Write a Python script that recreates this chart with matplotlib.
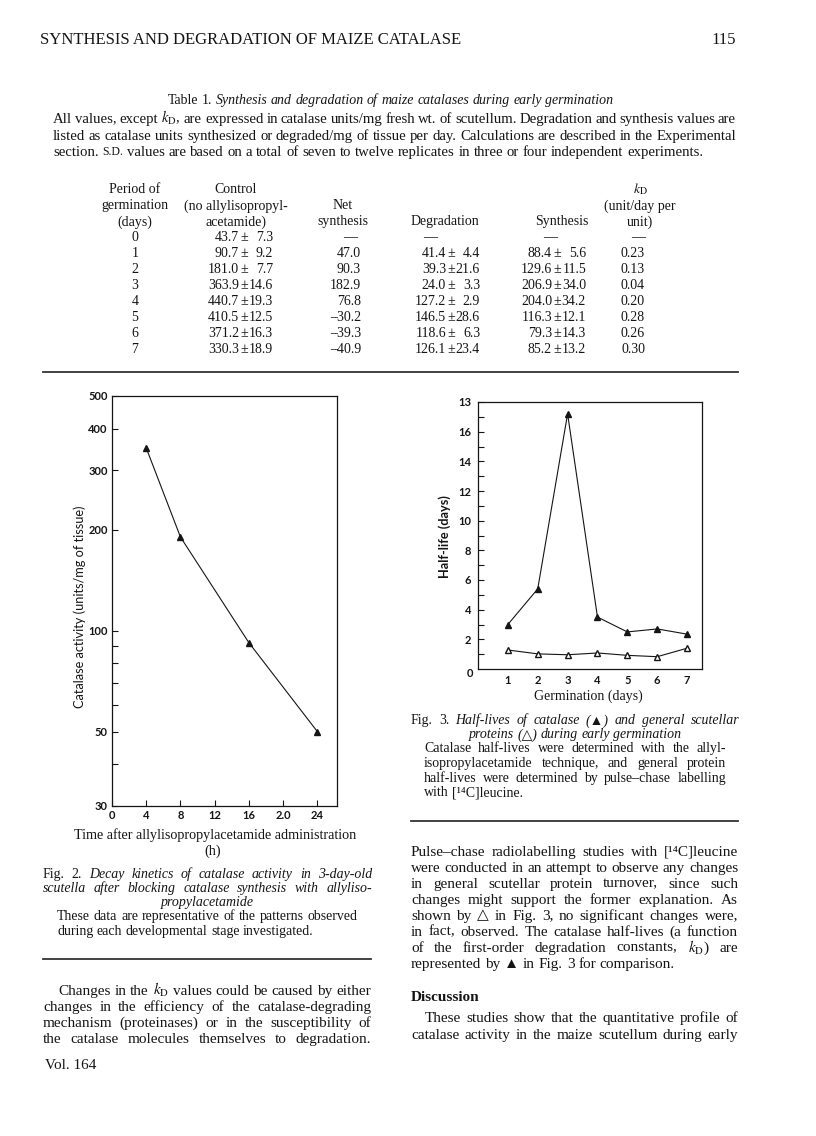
import matplotlib
matplotlib.use('Agg')
import matplotlib.pyplot as plt
from matplotlib.lines import Line2D
from matplotlib.ticker import FixedLocator, FixedFormatter, NullFormatter

plt.rcParams['mathtext.fontset'] = 'stix'

# Fig. 2 data: decay of catalase activity after blocking synthesis
hours = [4, 8, 16, 24]
activity = [350, 190, 92, 50]
hour_ticks = [0, 4, 8, 12, 16, 20, 24]
hour_labels = ['0', '4', '8', '12', '16', '2.0', '24']
activity_ticks = [30, 50, 100, 200, 300, 400, 500]
activity_minor = [40, 60, 70, 80, 90]

# Fig. 3 data: half-lives during germination
days = [1, 2, 3, 4, 5, 6, 7]
catalase_half_life = [3.0, 5.4, 17.2, 3.5, 2.5, 2.7, 2.35]
protein_half_life = [1.28, 1.02, 0.96, 1.08, 0.92, 0.83, 1.4]
half_life_ticks = [2, 4, 6, 8, 10, 12, 14, 16, 18]
half_life_labels = ['2', '4', '6', '8', '10', '12', '14', '16', '13']

# Table 1 data
table_days = [0, 1, 2, 3, 4, 5, 6, 7]
control_mean = [43.7, 90.7, 181.0, 363.9, 440.7, 410.5, 371.2, 330.3]
control_sd = [7.3, 9.2, 7.7, 14.6, 19.3, 12.5, 16.3, 18.9]
net_synthesis = [None, 47.0, 90.3, 182.9, 76.8, -30.2, -39.3, -40.9]
degradation_mean = [None, 41.4, 39.3, 24.0, 127.2, 146.5, 118.6, 126.1]
degradation_sd = [None, 4.4, 21.6, 3.3, 2.9, 28.6, 6.3, 23.4]
synthesis_mean = [None, 88.4, 129.6, 206.9, 204.0, 116.3, 79.3, 85.2]
synthesis_sd = [None, 5.6, 11.5, 34.0, 34.2, 12.1, 14.3, 13.2]
kd_values = [None, 0.23, 0.13, 0.04, 0.20, 0.28, 0.26, 0.30]

W, H = 816, 1136
SERIF = ['Liberation Serif', 'DejaVu Serif', 'DejaVu Sans']
SANS = ['Lato', 'DejaVu Sans']
INK = '#151515'
KD = r'$k_\mathrm{D}$'
BODY = 11      # running text
NOTE = 10.6    # table legend
LEGEND = 10    # figure legends
TAB = 10       # table body

fig = plt.figure(figsize=(W / 100, H / 100), dpi=100)
renderer = fig.canvas.get_renderer()


def fx(x):
    return x / W


def fy(y):
    return 1 - y / H


# y is the middle of the lower-case letters, in page pixels from the top
def put(x, y, s, size=BODY, style='normal', weight='normal', ha='left', family=SERIF):
    base = y + 0.24 * size * 100 / 72
    return fig.text(fx(x), fy(base), s, fontsize=size, fontstyle=style,
                    fontweight=weight, ha=ha, va='baseline', family=family, color=INK)


def roman(s, scale=1.0):
    return [(w, 'normal', 'normal', scale) for w in s.split()]


def ital(s):
    return [(w, 'italic', 'normal', 1.0) for w in s.split()]


def bold(s):
    return [(w, 'normal', 'bold', 1.0) for w in s.split()]


# one line of words, justified between x0 and x1 unless told otherwise
def line(x0, x1, y, tokens, size=BODY, justify=True, center=False):
    texts = [put(0, y, w, size * sc, st, wt) for (w, st, wt, sc) in tokens]
    widths = [t.get_window_extent(renderer).width for t in texts]
    total = sum(widths)
    space = 0.25 * size * 100 / 72
    if justify and len(texts) > 1:
        gap = max((x1 - x0 - total) / (len(texts) - 1), 0.6 * space)
        x = x0
    else:
        gap = space
        x = x0
        if center:
            x = (x0 + x1 - total - gap * (len(texts) - 1)) / 2
    for t, w in zip(texts, widths):
        t.set_x(fx(x))
        x += w + gap


def rule(x0, x1, y, lw=1.3):
    fig.add_artist(Line2D([fx(x0), fx(x1)], [fy(y), fy(y)], transform=fig.transFigure,
                          color='#333333', lw=lw))


# page header
put(40, 40, 'SYNTHESIS AND DEGRADATION OF MAIZE CATALASE', size=12)
put(736, 40, '115', size=12, ha='right')

# table title and legend
line(43, 738, 101, roman('Table 1.') + ital('Synthesis and degradation of maize catalases during early germination'),
     size=10, justify=False, center=True)
line(53, 736, 119, roman('All values, except ' + KD + ', are expressed in catalase units/mg fresh wt. of scutellum. '
                         'Degradation and synthesis values are'), size=NOTE)
line(53, 736, 136, roman('listed as catalase units synthesized or degraded/mg of tissue per day. Calculations are '
                         'described in the Experimental'), size=NOTE)
line(53, 736, 152, roman('section.') + roman('S.D.', 0.8) + roman('values are based on a total of seven to twelve '
                                                                 'replicates in three or four independent experiments.'),
     size=NOTE, justify=False)

# table header
for y, s in zip([190, 206, 222], ['Period of', 'germination', '(days)']):
    put(135, y, s, TAB, ha='center')
for y, s in zip([190, 206, 222], ['Control', '(no allylisopropyl-', 'acetamide)']):
    put(236, y, s, TAB, ha='center')
put(343, 206, 'Net', TAB, ha='center')
put(343, 222, 'synthesis', TAB, ha='center')
put(445, 222, 'Degradation', TAB, ha='center')
put(562, 222, 'Synthesis', TAB, ha='center')
for y, s in zip([190, 206, 222], [KD, '(unit/day per', 'unit)']):
    put(640, y, s, TAB, ha='center')


def mean_sd(x_pm, x_end, y, m, sd):
    put(x_pm - 5, y, '%.1f' % m, TAB, ha='right')
    put(x_pm, y, '±', TAB, ha='center')
    put(x_end, y, '%.1f' % sd, TAB, ha='right')


dash = '—'
for i, d in enumerate(table_days):
    y = 238 + 16 * i
    put(135, y, str(d), TAB, ha='center')
    mean_sd(244, 273, y, control_mean[i], control_sd[i])
    if net_synthesis[i] is None:
        put(350, y, dash, TAB, ha='center')
        put(430, y, dash, TAB, ha='center')
        put(550, y, dash, TAB, ha='center')
        put(638, y, dash, TAB, ha='center')
        continue
    put(361, y, ('%.1f' % net_synthesis[i]).replace('-', '\u2013'), TAB, ha='right')
    mean_sd(451, 480, y, degradation_mean[i], degradation_sd[i])
    mean_sd(557, 586, y, synthesis_mean[i], synthesis_sd[i])
    put(633, y, '%.2f' % kd_values[i], TAB, ha='center')

rule(43, 738, 372)

# Fig. 2
ax2 = fig.add_axes([fx(112), fy(806), (337 - 112) / W, (806 - 396) / H])
ax2.plot(hours, activity, color=INK, lw=0.8, marker='^', ms=5, mfc=INK, mec=INK)
ax2.set_yscale('log')
ax2.set_ylim(30, 500)
ax2.set_xlim(0, 26.3)
ax2.yaxis.set_major_locator(FixedLocator(activity_ticks))
ax2.yaxis.set_major_formatter(FixedFormatter([str(v) for v in activity_ticks]))
ax2.yaxis.set_minor_locator(FixedLocator(activity_minor))
ax2.yaxis.set_minor_formatter(NullFormatter())
ax2.set_xticks(hour_ticks, hour_labels)
ax2.tick_params(which='both', direction='in', length=4, width=0.8, colors=INK, labelsize=8, pad=3)

# Fig. 3
ax3 = fig.add_axes([fx(478), fy(669), (702 - 478) / W, (669 - 402) / H])
ax3.plot(days, catalase_half_life, color=INK, lw=0.8, marker='^', ms=5, mfc=INK, mec=INK)
ax3.plot(days, protein_half_life, color=INK, lw=0.8, marker='^', ms=5, mfc='white', mec=INK)
ax3.set_xlim(0, 7.5)
ax3.set_ylim(0, 18)
ax3.set_yticks(half_life_ticks, half_life_labels)
ax3.set_yticks(range(1, 18, 2), minor=True)
ax3.set_xticks(days)
ax3.tick_params(axis='y', which='both', direction='in', length=4, width=0.8, colors=INK, labelsize=8, pad=5)
ax3.tick_params(axis='x', length=0, colors=INK, labelsize=8, pad=4)

for ax in (ax2, ax3):
    for sp in ax.spines.values():
        sp.set_linewidth(0.9)
        sp.set_color(INK)
    for lab in ax.get_xticklabels() + ax.get_yticklabels():
        lab.set_family(SANS)
        lab.set_fontweight('bold')

put(470, 674, '0', 8, weight='bold', ha='center', family=SANS)

# axis titles
fig.text(fx(80), fy(607), 'Catalase activity (units/mg of tissue)', rotation=90, ha='center', va='center',
         fontsize=9.2, family=SANS, color=INK)
fig.text(fx(445), fy(537), 'Half-life (days)', rotation=90, ha='center', va='center',
         fontsize=9.2, family=SANS, fontweight='bold', color=INK)
put(215, 836, 'Time after allylisopropylacetamide administration', 10.2, ha='center')
put(213, 851, '(h)', 10.2, ha='center')
put(588, 696, 'Germination (days)', 10, ha='center')

# Fig. 2 legend and left column text
line(43, 372, 875, roman('Fig. 2.') + ital('Decay kinetics of catalase activity in 3-day-old'), size=LEGEND)
line(43, 372, 889, ital('scutella after blocking catalase synthesis with allyliso-'), size=LEGEND)
line(43, 372, 903, ital('propylacetamide'), size=LEGEND, justify=False, center=True)
line(57, 358, 917, roman('These data are representative of the patterns observed'), size=LEGEND)
line(57, 358, 932, roman('during each developmental stage investigated.'), size=LEGEND, justify=False)
rule(43, 371, 959)
line(58, 371, 991, roman('Changes in the ' + KD + ' values could be caused by either'))
line(43, 371, 1007, roman('changes in the efficiency of the catalase-degrading'))
line(43, 371, 1023, roman('mechanism (proteinases) or in the susceptibility of'))
line(43, 371, 1039, roman('the catalase molecules themselves to degradation.'))
put(45, 1065, 'Vol. 164')

# Fig. 3 legend and right column text
line(411, 739, 721, roman('Fig. 3.') + ital('Half-lives of catalase (▲) and general scutellar'), size=LEGEND)
line(411, 739, 735, ital('proteins (△) during early germination'), size=LEGEND, justify=False, center=True)
line(424, 726, 749, roman('Catalase half-lives were determined with the allyl-'), size=LEGEND)
line(424, 726, 764, roman('isopropylacetamide technique, and general protein'), size=LEGEND)
line(424, 726, 779, roman('half-lives were determined by pulse–chase labelling'), size=LEGEND)
line(424, 726, 793, roman('with [¹⁴C]leucine.'), size=LEGEND, justify=False)
rule(411, 738, 821)
right_lines = [
    'Pulse–chase radiolabelling studies with [¹⁴C]leucine',
    'were conducted in an attempt to observe any changes',
    'in general scutellar protein turnover, since such',
    'changes might support the former explanation. As',
    'shown by △ in Fig. 3, no significant changes were,',
    'in fact, observed. The catalase half-lives (a function',
    'of the first-order degradation constants, ' + KD + ') are',
]
for i, s in enumerate(right_lines):
    line(411, 738, 852 + 16 * i, roman(s))
line(411, 738, 964, roman('represented by ▲ in Fig. 3 for comparison.'), justify=False)
line(411, 738, 997, bold('Discussion'), justify=False)
line(425, 738, 1018, roman('These studies show that the quantitative profile of'))
line(411, 738, 1035, roman('catalase activity in the maize scutellum during early'))

fig.savefig('out.png', dpi=100, facecolor='white')
